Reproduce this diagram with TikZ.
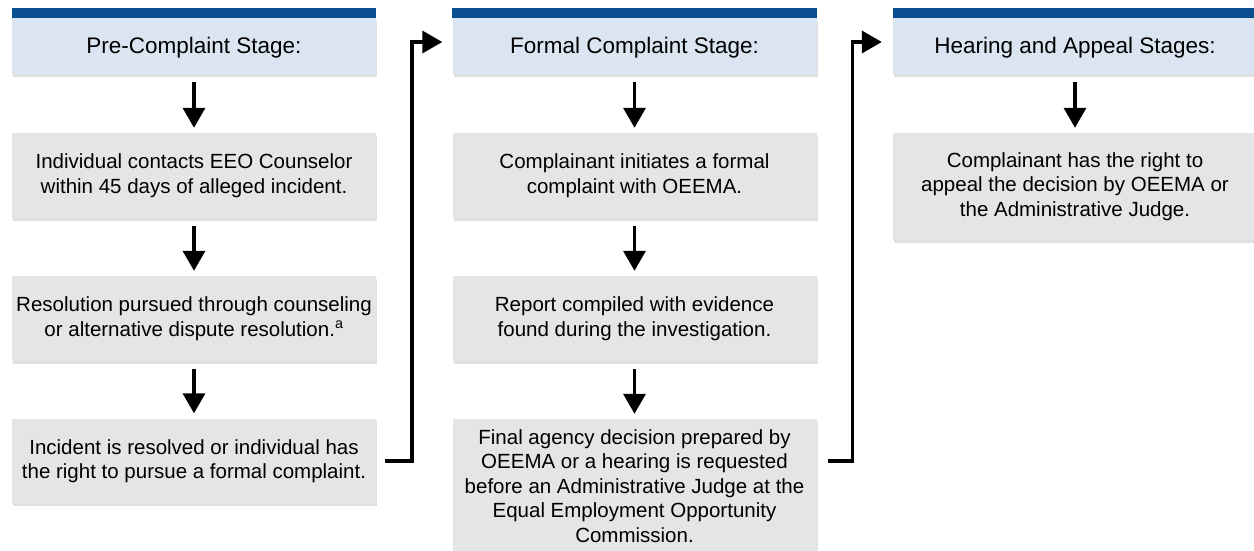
\documentclass[tikz,border=0pt]{standalone}
\usepackage{fontspec}
\setmainfont{Liberation Sans}
\usetikzlibrary{arrows.meta,shadows}
\definecolor{barblue}{RGB}{10,79,145}
\definecolor{headblue}{RGB}{219,229,241}
\definecolor{boxgray}{RGB}{229,229,229}
\begin{document}
\begin{tikzpicture}[x=1pt, y=-1pt,
    boxshadow/.style={drop shadow={shadow xshift=1pt, shadow yshift=-2.5pt, fill=black!25}},
    stage/.style={fill=headblue, minimum width=364pt, minimum height=56pt, inner sep=0pt,
        font=\fontsize{22.5}{27}\selectfont, boxshadow, execute at begin node={\rule{0pt}{19pt}}},
    stepbox/.style={fill=boxgray, minimum width=364pt, inner sep=0pt, align=center,
        font=\fontsize{20.5}{24.5}\selectfont, boxshadow, execute at begin node={\rule{0pt}{20pt}}},
    flow/.style={line width=3.5pt, -{Triangle[width=22pt,length=20pt]}},
    ]
    \useasboundingbox (0,0) rectangle (1254,550);

    \node[stage] (h1) at (194,46) {Pre-Complaint Stage:};
    \node[stage] (h2) at (634.5,46) {Formal Complaint Stage:};
    \node[stage] (h3) at (1075,46) {Hearing and Appeal Stages:};
    \foreach \n in {h1,h2,h3}
        \fill[barblue] (\n.north west) rectangle ([yshift=10pt]\n.north east);

    \node[stepbox, minimum height=85pt] (a1) at (194,175.5)
        {Individual contacts EEO Counselor\\within 45 days of alleged incident.};
    \node[stepbox, minimum height=85pt] (a2) at (194,318.5)
        {Resolution pursued through counseling\\or alternative dispute resolution.\textsuperscript{a}};
    \node[stepbox, minimum height=85pt] (a3) at (194,461)
        {Incident is resolved or individual has\\the right to pursue a formal complaint.};

    \node[stepbox, minimum height=85pt] (b1) at (634.5,175.5)
        {Complainant initiates a formal\\complaint with OEEMA.};
    \node[stepbox, minimum height=85pt] (b2) at (634.5,318.5)
        {Report compiled with evidence\\found during the investigation.};
    \node[stepbox, minimum height=134pt] (b3) at (634.5,486)
        {Final agency decision prepared by\\OEEMA or a hearing is requested\\before an Administrative Judge at the\\Equal Employment Opportunity\\Commission.};

    \node[stepbox, minimum height=107pt] (c1) at (1075,186.5)
        {Complainant has the right to\\appeal the decision by OEEMA or\\the Administrative Judge.};

    \draw[flow, shorten <=8pt, shorten >=5pt] (h1) -- (a1);
    \draw[flow, shorten <=8pt, shorten >=5pt] (a1) -- (a2);
    \draw[flow, shorten <=8pt, shorten >=5pt] (a2) -- (a3);
    \draw[flow, shorten <=8pt, shorten >=5pt] (h2) -- (b1);
    \draw[flow, shorten <=8pt, shorten >=5pt] (b1) -- (b2);
    \draw[flow, shorten <=8pt, shorten >=5pt] (b2) -- (b3);
    \draw[flow, shorten <=8pt, shorten >=5pt] (h3) -- (c1);

    \draw[flow, shorten <=9pt, shorten >=10pt] (a3.east) -- ++(36,0) |- ([yshift=4pt]h2.west);
    \draw[flow, shorten <=11pt, shorten >=11pt] (b3.east |- a3.east) -- ++(36,0) |- ([yshift=4pt]h3.west);
\end{tikzpicture}
\end{document}
